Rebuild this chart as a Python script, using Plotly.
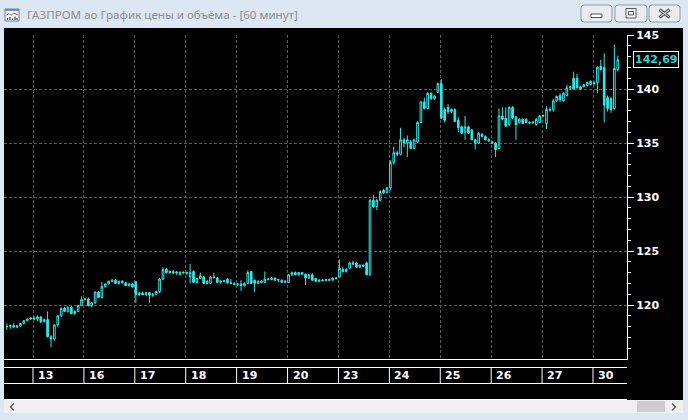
import plotly.graph_objects as go

# ---------------- data ----------------
day_labels = ["13", "16", "17", "18", "19", "20", "23", "24", "25", "26", "27", "30"]
pre_bars = 8          # bars of the partial day before "13"
bars_per_day = 15
last_price = 142.69
last_price_text = "142,69"
y_ticks = [120, 125, 130, 135, 140, 145]
title_text = "ГАЗПРОМ ао График цены и объёма - [60 минут]"

opens = [
    118.0, 118.0, 118.1, 117.95, 118.05, 118.3, 118.55, 118.7,
    118.8, 118.7, 118.9, 118.45, 118.65, 117.05, 116.85, 118.15, 119.0, 119.7, 119.4, 119.8, 119.2, 119.4, 119.95,
    120.5, 120.55, 119.95, 120.2, 121.2, 120.7, 121.7, 121.95, 122.2, 122.3, 122.0, 122.2, 122.05, 121.8, 121.95,
    122.15, 120.95, 121.1, 120.95, 121.15, 120.9, 121.0, 121.25, 122.4, 123.3, 123.0, 123.1, 122.95, 122.8, 123.05,
    123.0, 122.6, 123.1, 122.1, 122.45, 122.6, 122.0, 122.0, 122.6, 122.5, 122.1, 122.2, 122.4, 122.05, 122.0,
    121.9, 121.95, 121.8, 122.0, 123.1, 122.3, 122.0, 122.2, 122.1, 122.4, 122.35, 122.5, 122.3, 122.3, 122.1,
    122.1, 122.8, 123.0, 122.8, 123.0, 122.85, 122.5, 122.8, 122.45, 122.2, 122.3, 122.25, 122.35, 122.3, 122.5,
    122.6, 123.3, 123.1, 123.4, 123.9, 123.9, 123.5, 123.7, 123.9, 122.8, 129.7, 129.1, 129.7, 130.6, 130.4,
    130.85, 133.2, 134.1, 133.95, 135.3, 135.0, 135.1, 134.5, 135.1, 136.9, 138.8, 138.2, 139.6, 139.1, 139.7,
    140.5, 138.1, 138.3, 137.9, 138.1, 137.1, 136.5, 136.0, 136.5, 136.2, 135.3, 135.0, 135.8, 135.6, 135.3,
    135.1, 135.0, 134.5, 137.5, 137.3, 136.7, 138.3, 137.4, 136.9, 137.2, 137.2, 136.9, 136.85, 136.7, 136.9,
    137.5, 136.8, 138.1, 138.1, 138.9, 139.4, 138.9, 139.4, 140.1, 141.0, 141.0, 140.2, 140.2, 140.3, 140.4,
    140.6, 140.6, 142.1, 142.0, 139.2, 139.1, 138.2, 141.8,
]
highs = [
    118.3, 118.2, 118.3, 118.15, 118.3, 118.6, 118.75, 118.85,
    118.95, 119.05, 118.95, 118.75, 119.4, 117.2, 118.2, 119.05, 119.75, 119.85, 119.85, 119.9, 119.5, 120.0, 120.8,
    120.65, 120.7, 120.3, 121.25, 121.3, 122.15, 122.0, 122.25, 122.35, 122.4, 122.25, 122.3, 122.15, 122.0, 122.05,
    122.2, 121.2, 121.25, 121.2, 121.2, 121.1, 121.35, 122.5, 123.5, 123.45, 123.2, 123.25, 123.15, 123.1, 123.1,
    123.1, 123.8, 123.2, 122.5, 123.0, 122.7, 122.3, 122.65, 123.0, 122.6, 122.3, 122.3, 122.5, 122.4, 122.1,
    122.0, 122.3, 122.1, 123.2, 123.15, 122.35, 122.3, 122.3, 123.1, 122.5, 122.6, 122.55, 122.4, 122.35, 122.3,
    122.85, 123.1, 123.1, 123.05, 123.05, 122.9, 122.9, 122.95, 122.5, 122.35, 122.4, 122.4, 122.45, 122.55, 122.6,
    124.2, 123.5, 123.4, 124.0, 124.1, 124.0, 123.75, 123.75, 124.0, 129.8, 130.2, 129.8, 130.6, 130.75, 130.95,
    133.4, 134.65, 134.3, 136.4, 135.5, 135.7, 135.3, 135.4, 137.0, 138.9, 139.2, 139.7, 139.7, 139.45, 140.6,
    140.9, 138.3, 138.6, 138.2, 138.2, 137.4, 136.6, 137.5, 136.6, 136.3, 135.4, 136.0, 135.95, 135.7, 135.45,
    135.2, 135.1, 138.2, 138.3, 138.3, 138.4, 138.4, 137.5, 137.3, 137.3, 137.3, 137.0, 137.0, 137.3, 137.6,
    137.65, 138.4, 138.3, 139.1, 139.4, 139.6, 139.7, 140.4, 140.3, 141.6, 141.4, 140.3, 140.45, 140.7, 140.8,
    140.7, 142.1, 142.7, 143.3, 139.4, 139.3, 144.1, 143.1,
]
lows = [
    117.7, 117.8, 117.9, 117.85, 118.0, 118.2, 118.5, 118.6,
    118.6, 118.5, 118.3, 118.4, 117.0, 116.1, 116.7, 118.0, 118.9, 119.35, 119.3, 119.15, 119.1, 119.35, 119.9,
    120.4, 119.85, 119.8, 120.1, 120.65, 120.6, 121.6, 121.9, 122.1, 121.95, 121.9, 122.0, 121.75, 121.7, 121.6,
    120.2, 120.85, 120.9, 120.85, 120.2, 120.75, 120.9, 121.1, 122.3, 122.9, 122.85, 122.9, 122.8, 122.75, 122.9,
    122.8, 122.0, 122.05, 122.0, 122.4, 121.95, 121.9, 121.95, 122.45, 122.0, 121.95, 122.1, 122.0, 121.95, 121.85,
    121.75, 121.3, 121.7, 121.95, 121.95, 121.2, 121.95, 122.0, 122.0, 122.3, 122.3, 122.25, 122.1, 122.05, 122.0,
    122.05, 122.7, 122.75, 122.7, 122.8, 121.85, 122.4, 122.2, 122.15, 122.1, 122.2, 122.2, 122.25, 122.25, 122.35,
    122.55, 123.0, 123.0, 123.3, 123.7, 123.45, 123.4, 123.5, 122.75, 122.7, 129.0, 128.8, 129.6, 130.3, 130.35,
    130.6, 133.0, 133.8, 133.85, 134.6, 133.7, 134.45, 134.4, 135.0, 136.8, 138.1, 138.1, 139.0, 139.0, 139.6,
    137.2, 136.9, 137.7, 137.75, 136.95, 136.0, 135.85, 135.3, 135.85, 135.25, 134.4, 134.9, 135.5, 135.25, 135.1,
    134.9, 133.7, 134.4, 137.1, 136.5, 136.6, 137.25, 135.3, 136.8, 136.75, 136.85, 136.75, 136.8, 136.6, 136.85,
    137.4, 136.3, 137.9, 137.9, 138.8, 138.8, 138.85, 139.3, 139.9, 139.95, 140.05, 139.95, 140.15, 140.25, 140.35,
    140.35, 139.6, 141.7, 136.9, 137.9, 137.8, 138.1, 141.6,
]
closes = [
    118.0, 118.1, 117.95, 118.05, 118.3, 118.55, 118.7, 118.8,
    118.7, 118.9, 118.45, 118.65, 117.05, 116.85, 118.15, 119.0, 119.7, 119.4, 119.8, 119.2, 119.4, 119.95, 120.5,
    120.55, 119.95, 120.2, 121.2, 120.7, 121.7, 121.95, 122.2, 122.3, 122.0, 122.2, 122.05, 121.8, 121.95, 121.7,
    120.95, 121.1, 120.95, 121.15, 120.9, 121.0, 121.25, 122.4, 123.3, 123.0, 123.1, 122.95, 123.05, 123.05, 123.0,
    122.95, 123.0, 122.1, 122.45, 122.7, 122.0, 122.2, 122.6, 122.55, 122.1, 122.2, 122.25, 122.05, 122.0, 121.9,
    121.95, 121.8, 122.0, 123.0, 122.0, 122.0, 122.2, 122.1, 122.4, 122.35, 122.5, 122.3, 122.35, 122.1, 122.2,
    122.8, 123.0, 122.8, 123.0, 122.85, 122.5, 122.8, 122.3, 122.2, 122.3, 122.25, 122.35, 122.3, 122.5, 122.45,
    123.4, 123.1, 123.3, 123.9, 123.8, 123.5, 123.7, 123.6, 122.8, 129.7, 129.1, 129.7, 130.5, 130.4, 130.85,
    133.2, 134.1, 133.95, 135.3, 135.0, 135.3, 134.5, 135.3, 136.9, 138.8, 138.2, 139.6, 139.1, 139.35, 140.5,
    137.3, 137.1, 137.9, 138.1, 137.0, 136.4, 135.9, 136.5, 135.9, 135.3, 135.0, 135.9, 135.6, 135.3, 135.2,
    135.0, 134.4, 137.5, 137.2, 136.55, 138.3, 137.3, 136.7, 137.2, 136.8, 136.9, 136.85, 136.95, 137.2, 137.5,
    137.55, 138.1, 138.05, 138.9, 139.3, 139.0, 139.6, 140.1, 140.2, 140.0, 140.1, 140.0, 140.4, 140.6, 140.7,
    140.5, 142.0, 141.8, 138.5, 138.2, 138.1, 141.9, 142.69,
]

# ---------------- geometry / style ----------------
W, H = 688, 420
PL, PR, PT, PB = 4, 627, 35, 359          # plot area in pixels
LIGHT = "#dde7f3"
CYAN = "#3ae4e4"
GRID = "#5a5a5a"
FONT_B = dict(family="DejaVu Sans", size=11, color="white", weight="bold")

n = len(closes)
idx = list(range(n))
day_starts = [pre_bars + k * bars_per_day for k in range(len(day_labels))]
bounds = [s - 0.3 for s in day_starts]
px_per_bar = (593 - 33) / (bounds[-1] - bounds[0])
x_min = bounds[0] - (33 - PL) / px_per_bar
x_max = bounds[0] + (PR - 33) / px_per_bar


def X(px):
    return (px - PL) / (PR - PL)


def Y(py):
    return (PB - py) / (PB - PT)


def rect(x0, y0, x1, y1, fill, line=None, lw=0, layer="above"):
    return dict(type="rect", xref="paper", yref="paper",
                x0=X(x0), x1=X(x1), y0=Y(y0), y1=Y(y1),
                fillcolor=fill, line=dict(color=line or fill, width=lw), layer=layer)


def seg(x0, y0, x1, y1, color, w=1, layer="above"):
    return dict(type="line", xref="paper", yref="paper",
                x0=X(x0), x1=X(x1), y0=Y(y0), y1=Y(y1),
                line=dict(color=color, width=w), layer=layer)


def rrect(x0, y0, x1, y1, r, fill, line):
    p = (f"M {X(x0 + r)},{Y(y0)} L {X(x1 - r)},{Y(y0)} Q {X(x1)},{Y(y0)} {X(x1)},{Y(y0 + r)} "
         f"L {X(x1)},{Y(y1 - r)} Q {X(x1)},{Y(y1)} {X(x1 - r)},{Y(y1)} "
         f"L {X(x0 + r)},{Y(y1)} Q {X(x0)},{Y(y1)} {X(x0)},{Y(y1 - r)} "
         f"L {X(x0)},{Y(y0 + r)} Q {X(x0)},{Y(y0)} {X(x0 + r)},{Y(y0)} Z")
    return dict(type="path", xref="paper", yref="paper", path=p,
                fillcolor=fill, line=dict(color=line, width=1), layer="above")


fig = go.Figure(go.Candlestick(
    x=idx, open=opens, high=highs, low=lows, close=closes,
    increasing=dict(line=dict(color=CYAN, width=1), fillcolor="#000000"),
    decreasing=dict(line=dict(color=CYAN, width=1), fillcolor=CYAN),
    whiskerwidth=0, hoverinfo="skip",
))

shapes = []
# window black client area
shapes.append(rect(4, 28, 683, 400, "#000000", layer="below"))
# scrollbar
shapes.append(rect(4, 400, 683, 413, "#f0f0f0"))
shapes.append(rect(637, 401, 665, 412, "#cdcdcd"))
shapes.append(dict(type="path", xref="paper", yref="paper",
                   path=f"M {X(14)},{Y(403.5)} L {X(10.5)},{Y(407)} L {X(14)},{Y(410.5)}",
                   line=dict(color="#606060", width=1.5)))
shapes.append(dict(type="path", xref="paper", yref="paper",
                   path=f"M {X(672)},{Y(403.5)} L {X(675.5)},{Y(407)} L {X(672)},{Y(410.5)}",
                   line=dict(color="#606060", width=1.5)))
# date row frame
for yy in (367.5, 383.5, 399.5):
    shapes.append(seg(PL, yy, PR, yy, "white"))
for b in bounds:
    shapes.append(dict(type="line", xref="x", yref="paper", x0=b, x1=b,
                       y0=Y(367.5), y1=Y(383.5), line=dict(color="white", width=1)))

# title-bar icon
shapes.append(rect(5, 9, 19, 21, "#ffffff", "#5d7ea6", 1))
shapes.append(rect(5, 9, 19, 11, "#6a8fbf"))
shapes.append(dict(type="path", xref="paper", yref="paper",
                   path=(f"M {X(6.5)},{Y(15)} L {X(9)},{Y(13.5)} L {X(11)},{Y(15.5)} "
                         f"L {X(13.5)},{Y(13)} L {X(17.5)},{Y(14.5)}"),
                   line=dict(color="#d23c3c", width=1)))
for bx, by in ((7.5, 18), (10, 17), (12.5, 18.5), (15, 16.5), (17, 18)):
    shapes.append(seg(bx, by, bx, 20, "#2f4f86", 1.3))

# window buttons
for x0, x1 in ((581, 612), (615, 647), (649, 680)):
    shapes.append(rrect(x0, 5, x1, 22, 3, "#e8edf3", "#8f9bab"))
shapes.append(rect(591, 14, 602, 17.5, "#ffffff", "#4e5560", 1))
shapes.append(rect(626, 8.5, 636, 18, "#ffffff", "#4e5560", 1))
shapes.append(rect(628.5, 11.5, 633.5, 15, "#ffffff", "#4e5560", 1))
shapes.append(seg(659.5, 9.5, 669.5, 17.5, "#4e5560", 3.2))
shapes.append(seg(659.5, 17.5, 669.5, 9.5, "#4e5560", 3.2))
shapes.append(seg(659.8, 9.8, 669.2, 17.2, "#ffffff", 1))
shapes.append(seg(659.8, 17.2, 669.2, 9.8, "#ffffff", 1))

annotations = []
for b, lab in zip(bounds, day_labels):
    annotations.append(dict(xref="x", yref="paper", x=b, y=Y(375.5), xanchor="left",
                            yanchor="middle", xshift=3, text=lab, showarrow=False, font=FONT_B))
annotations.append(dict(xref="paper", yref="y", x=X(633), y=last_price, xanchor="left",
                        yanchor="middle", text=last_price_text, showarrow=False,
                        font=dict(family="DejaVu Sans", size=11, color="#3ecfcf", weight="bold"),
                        bgcolor="#000000", bordercolor="white", borderwidth=1, borderpad=1))
annotations.append(dict(xref="paper", yref="paper", x=X(25), y=Y(14.5), xanchor="left",
                        yanchor="middle", text=title_text, showarrow=False,
                        font=dict(family="Noto Sans", size=11.6, color="#8c8c8c")))

fig.update_layout(
    width=W, height=H,
    margin=dict(l=PL, r=W - PR, t=PT, b=H - PB, pad=0),
    paper_bgcolor=LIGHT, plot_bgcolor="#000000",
    showlegend=False,
    xaxis=dict(range=[x_min, x_max], rangeslider=dict(visible=False),
               tickmode="array", tickvals=bounds, showticklabels=False, ticks="",
               showgrid=True, gridcolor=GRID, griddash="3px,2px", gridwidth=1,
               showline=True, linecolor="white", linewidth=1, zeroline=False,
               automargin=False, fixedrange=True),
    yaxis=dict(side="right", range=[115, 145], tickmode="array", tickvals=y_ticks,
               ticks="outside", ticklen=6, tickwidth=1, tickcolor="white",
               tickfont=FONT_B, showline=True, linecolor="white", linewidth=1,
               showgrid=True, gridcolor=GRID, griddash="3px,2px", gridwidth=1,
               zeroline=False, automargin=False, fixedrange=True,
               minor=dict(tickmode="array", tickvals=[v for v in range(116, 145) if v % 5],
                          ticks="outside", ticklen=3, tickcolor="white", showgrid=False)),
    shapes=shapes, annotations=annotations,
)

fig.write_html("out.html", config={"displayModeBar": False},
               post_script="document.body.style.margin='0';document.body.style.padding='0';")
